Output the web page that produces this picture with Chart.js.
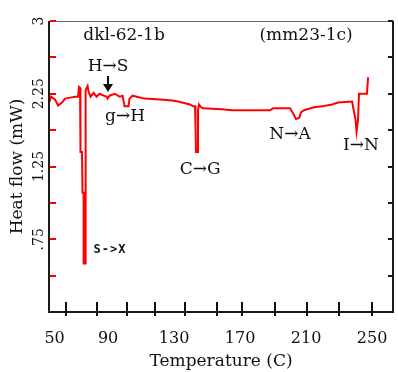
<!DOCTYPE html>
<html>
<head>
<meta charset="utf-8">
<script src="https://cdn.jsdelivr.net/npm/chart.js@4.4.1/dist/chart.umd.min.js"></script>
<style>
  body { margin: 0; background: #fff; }
  #wrap { width: 398px; height: 372px; position: relative; }
</style>
</head>
<body>
<div id="wrap"><canvas id="dsc"></canvas></div>
<script>
// DSC trace: temperature (C) / heat flow (mW)
const temps = [54.3, 55.5, 57.9, 59.7, 62.1, 64.0, 67.0, 70.0, 71.8, 72.4, 73.0, 73.3, 74.2, 74.5, 75.2, 75.2, 76.1, 76.4,
  77.6, 78.2, 79.4, 81.2, 83.0, 84.8, 87.3, 89.1, 89.7, 90.9, 94.0, 97.0, 98.8, 100.0, 102.4, 103.0, 104.8, 107.4,
  112.2, 121.5, 128.8, 132.4, 134.8, 139.7, 141.5, 142.7, 143.0, 143.3, 144.2, 144.5, 145.1, 146.4, 147.6, 159.1,
  165.2, 188.2, 190.0, 200.3, 202.1, 203.9, 205.8, 207.0, 208.8, 214.8, 219.7, 225.8, 229.4, 237.9, 239.1, 240.0,
  240.6, 241.5, 242.1, 246.9, 247.6];
const flow = [2.16, 2.22, 2.19, 2.13, 2.16, 2.20, 2.21, 2.22, 2.22, 2.32, 2.31, 1.65, 1.65, 1.23, 1.23, 0.50, 0.50, 2.29,
  2.33, 2.27, 2.22, 2.26, 2.22, 2.25, 2.23, 2.22, 2.20, 2.23, 2.25, 2.22, 2.23, 2.12, 2.12, 2.20, 2.23, 2.22,
  2.20, 2.19, 2.18, 2.17, 2.16, 2.14, 2.12, 2.12, 1.92, 1.65, 1.65, 2.08, 2.14, 2.11, 2.10, 2.09,
  2.08, 2.08, 2.10, 2.10, 2.05, 1.99, 2.00, 2.06, 2.08, 2.11, 2.12, 2.14, 2.16, 2.17, 2.06, 1.98,
  1.86, 1.98, 2.25, 2.25, 2.42];

// axis labels and tick marks, as printed on the original
const xLabels = ["50", "90", "130", "170", "210", "250"];
const xLabelAt = [57.6, 90, 130, 170, 210, 250];
const xTickAt = [64.5, 83.3, 101.5, 118.5, 136.7, 156.1, 171.2, 191.2, 210.6, 230, 250];
const yLabels = [".75", "1.25", "2.25", "3"];
const yLabelAt = [0.75, 1.5, 2.25, 3];
const yTickAt = [0.375, 0.75, 1.125, 1.5, 1.875, 2.25, 2.625, 3];

// sample names and transition labels
const notes = [
  { text: "dkl-62-1b", t: 99.7, mw: 2.845 },
  { text: "(mm23-1c)", t: 210, mw: 2.845 },
  { text: "H\u2192S", t: 90, mw: 2.526 },
  { text: "g\u2192H", t: 100.3, mw: 2.01 },
  { text: "C\u2192G", t: 145.8, mw: 1.464 },
  { text: "N\u2192A", t: 200.3, mw: 1.825 },
  { text: "I\u2192N", t: 243.3, mw: 1.711 }
];
const smallNote = { text: "S->X", t: 91.2, mw: 0.64 };
const arrow = { t: 90, from: 2.433, to: 2.268 };

const SERIF = '"DejaVu Serif", serif';

// frame, inner tick marks and the text labels
const framePlugin = {
  id: "frame",
  afterDraw(chart) {
    const ctx = chart.ctx;
    const a = chart.chartArea;
    const xs = chart.scales.x;
    const ys = chart.scales.y;
    ctx.save();

    ctx.fillStyle = "#666";
    ctx.fillRect(a.left, a.top, a.right - a.left, 1);

    ctx.fillStyle = "#1a1a1a";
    ctx.fillRect(a.left - 1, a.top, 2, a.bottom - a.top + 1);
    ctx.fillRect(a.left - 1, a.bottom - 1, a.right - a.left + 2, 2);
    ctx.fillRect(a.right - 1, a.top, 2, a.bottom - a.top + 1);

    // x ticks cross the bottom axis
    const xpx = xTickAt.map(v => Math.round(xs.getPixelForValue(v)));
    ctx.fillStyle = "#111";
    xpx.forEach(px => ctx.fillRect(px - 1, a.bottom - 10, 2, 14));

    yTickAt.forEach(v => {
      const py = Math.round(ys.getPixelForValue(v));
      // right side black, left side red
      ctx.fillStyle = "#1a1a1a";
      ctx.fillRect(a.right - 5, py - 1, 5, 2);
      ctx.fillStyle = "#ff0000";
      ctx.fillRect(a.left + 1, py - 1, 6, 2);
    });

    ctx.fillStyle = "#111";
    ctx.textAlign = "center";
    ctx.textBaseline = "middle";
    ctx.font = "17px " + SERIF;
    notes.forEach(n => {
      ctx.fillText(n.text, xs.getPixelForValue(n.t), ys.getPixelForValue(n.mw));
    });

    ctx.font = 'bold 12px "DejaVu Sans Mono", monospace';
    ctx.letterSpacing = "1px";
    ctx.fillText(smallNote.text, xs.getPixelForValue(smallNote.t), ys.getPixelForValue(smallNote.mw));
    ctx.letterSpacing = "0px";

    // the little arrow under H->S
    const ax = Math.round(xs.getPixelForValue(arrow.t));
    const y1 = ys.getPixelForValue(arrow.from);
    const y2 = ys.getPixelForValue(arrow.to);
    ctx.fillRect(ax - 1, y1, 2, y2 - y1 - 6);
    ctx.beginPath();
    ctx.moveTo(ax - 5, y2 - 8);
    ctx.lineTo(ax + 5, y2 - 8);
    ctx.lineTo(ax, y2);
    ctx.closePath();
    ctx.fill();

    ctx.restore();
  }
};

document.addEventListener("DOMContentLoaded", () => {
  const ctx = document.getElementById("dsc").getContext("2d");
  new Chart(ctx, {
    type: "line",
    data: {
      datasets: [{
        data: temps.map((t, i) => ({ x: t, y: flow[i] })),
        borderColor: "#ff0000",
        borderWidth: 2,
        pointRadius: 0,
        tension: 0,
        fill: false
      }]
    },
    options: {
      responsive: true,
      maintainAspectRatio: false,
      animation: false,
      layout: { padding: { top: 21, right: 5, left: 0, bottom: 0 } },
      plugins: {
        legend: { display: false },
        tooltip: { enabled: false }
      },
      scales: {
        x: {
          type: "linear",
          min: 54.2,
          max: 262.7,
          grid: { display: false },
          border: { display: false },
          afterBuildTicks: s => { s.ticks = xLabelAt.map(v => ({ value: v })); },
          afterFit: s => { s.height = 60; s.paddingLeft = 0; s.paddingRight = 0; },
          ticks: {
            autoSkip: false,
            maxRotation: 0,
            padding: 9,
            color: "#111",
            font: { family: SERIF, size: 16 },
            callback: v => xLabels[xLabelAt.indexOf(v)]
          },
          title: {
            display: true,
            text: "Temperature (C)",
            color: "#111",
            font: { family: SERIF, size: 17 },
            padding: { top: 0, bottom: 0 }
          }
        },
        y: {
          type: "linear",
          min: 0,
          max: 3,
          grid: { display: false },
          border: { display: false },
          afterBuildTicks: s => { s.ticks = yLabelAt.map(v => ({ value: v })); },
          afterFit: s => { s.width = 49; s.paddingTop = 0; s.paddingBottom = 0; },
          ticks: {
            autoSkip: false,
            minRotation: 90,
            maxRotation: 90,
            crossAlign: "center",
            padding: -14,
            color: "#111",
            font: { family: SERIF, size: 14 },
            callback: v => yLabels[yLabelAt.indexOf(v)]
          },
          title: {
            display: true,
            text: "Heat flow (mW)",
            color: "#111",
            font: { family: SERIF, size: 17 },
            padding: { top: 7, bottom: 0 }
          }
        }
      }
    },
    plugins: [framePlugin]
  });
});
</script>
</body>
</html>
